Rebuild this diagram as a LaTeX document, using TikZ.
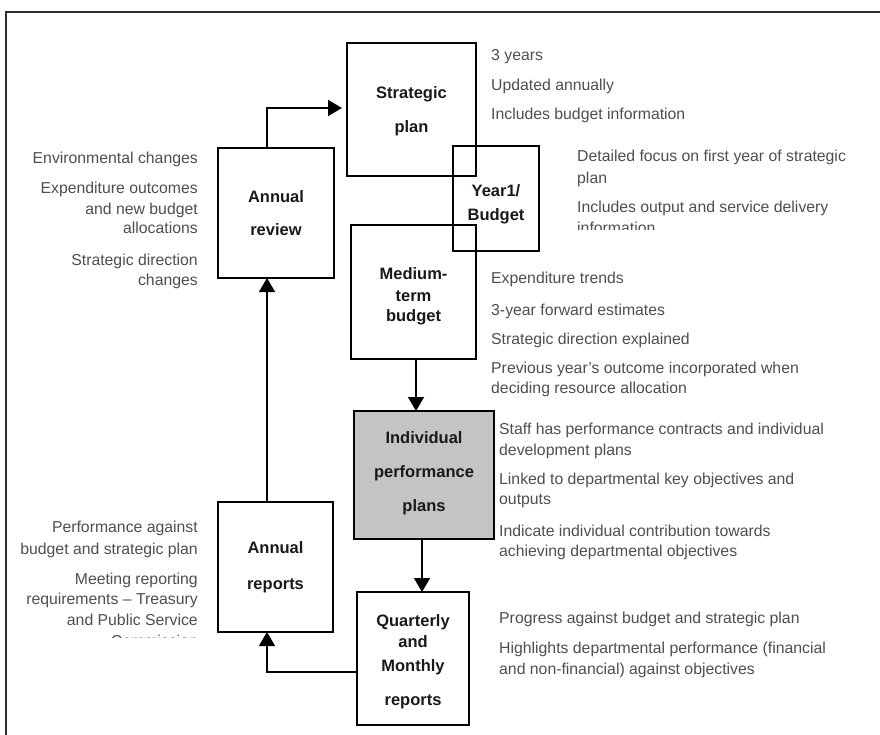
\documentclass[tikz,border=0pt]{standalone}
\usepackage{fontspec}
\setmainfont{Liberation Sans}
\usetikzlibrary{arrows.meta}
\definecolor{txt}{RGB}{78,78,78}
\definecolor{lblc}{RGB}{25,25,25}
\definecolor{fillg}{RGB}{196,196,196}
\definecolor{framec}{RGB}{45,45,45}
\begin{document}
\begin{tikzpicture}[x=1pt,y=-1pt,
  box/.style={draw=black,line width=1.5pt,inner sep=0pt,outer sep=0pt},
  lbl/.style={font=\fontsize{16.5}{20}\selectfont\bfseries,text=lblc,align=center,inner sep=0pt},
  note/.style={font=\fontsize{15.8}{20}\selectfont,text=txt,inner sep=0pt},
  nl/.style={note,anchor=base west},
  nr/.style={note,anchor=base east},
  conn/.style={line width=1.5pt,-{Triangle[length=14pt,width=16pt]}}]
\useasboundingbox (0,0) rectangle (880,734);
\draw[framec,line width=1.6pt] (6,740) -- (6,12) -- (890,12);

% boxes
\node[box,minimum width=129pt,minimum height=133pt] (sp) at (411.5,109.5) {};
\node[box,minimum width=86pt,minimum height=105pt] (yb) at (496,198.5) {};
\node[box,minimum width=125pt,minimum height=134pt] (med) at (413.5,292) {};
\node[box,minimum width=116pt,minimum height=130pt] (arev) at (276,213) {};
\node[box,fill=fillg,minimum width=140pt,minimum height=128pt] (ind) at (424,475) {};
\node[box,minimum width=115pt,minimum height=130pt] (arep) at (275.5,567) {};
\node[box,minimum width=112pt,minimum height=133pt] (qmr) at (413,658.5) {};

% labels (yshift is in canvas units: positive moves up)
\node[lbl] (spl) at ([yshift=-2pt]sp.center) {Strategic\\[14pt]plan};
\node[lbl] (ybl) at ([yshift=-6pt]yb.center) {Year1/\\[4pt]Budget};
\node[lbl] (medl) at ([yshift=-4pt]med.center) {Medium-\\[2pt]term\\budget};
\node[lbl] (arevl) at (arev.center) {Annual\\[13pt]review};
\node[lbl] (indl) at ([yshift=2pt]ind.center) {Individual\\[14pt]performance\\[14pt]plans};
\node[lbl] (arepl) at (arep.center) {Annual\\[16pt]reports};
\node[lbl] (qmrl) at ([yshift=-3pt]qmr.center) {Quarterly\\[1pt]and\\[4pt]Monthly\\[14pt]reports};

% connectors
\coordinate (lx) at (267,0);
\coordinate (ty) at (0,108);
\coordinate (c1) at (416,0);
\coordinate (c2) at (422,0);
\coordinate (c3) at (0,672);
\draw[conn,shorten >=5pt] (arev.north -| lx) |- (sp.west |- ty);
\draw[conn] (arep.north -| lx) -- (arev.south -| lx);
\draw[conn] (med.south -| c1) -- (ind.north -| c1);
\draw[conn] (ind.south -| c2) -- (qmr.north -| c2);
\draw[conn] (qmr.west |- c3) -| (arep.south -| lx);

% strategic plan notes
\node[nl] (s1) at (491,60) {3 years};
\node[nl] (s2) at (491,90) {Updated annually};
\node[nl] (s3) at (491,119) {Includes budget information};
% year1 notes
\node[nl] (y1) at (577,161) {Detailed focus on first year of strategic};
\node[nl] (y2) at (577,183) {plan};
\node[nl] (y3) at (577,212) {Includes output and service delivery};
\begin{scope}
\clip (560,0) rectangle (880,229.5);
\node[nl] (y4) at (577,233) {information};
\end{scope}
% medium-term notes
\node[nl] (m1) at (491,283) {Expenditure trends};
\node[nl] (m2) at (491,315) {3-year forward estimates};
\node[nl] (m3) at (491,344) {Strategic direction explained};
\node[nl] (m4) at (491,373) {Previous year’s outcome incorporated when};
\node[nl] (m5) at (491,393) {deciding resource allocation};
% individual notes
\node[nl] (i1) at (499,434) {Staff has performance contracts and individual};
\node[nl] (i2) at (499,455) {development plans};
\node[nl] (i3) at (499,484) {Linked to departmental key objectives and};
\node[nl] (i4) at (499,504) {outputs};
\node[nl] (i5) at (499,536) {Indicate individual contribution towards};
\node[nl] (i6) at (499,556) {achieving departmental objectives};
% quarterly notes
\node[nl] (q1) at (499,623) {Progress against budget and strategic plan};
\node[nl] (q2) at (499,653) {Highlights departmental performance (financial};
\node[nl] (q3) at (499,674) {and non-financial) against objectives};
% annual review notes
\node[nr] (r1) at (198,163) {Environmental changes};
\node[nr] (r2) at (198,193) {Expenditure outcomes};
\node[nr] (r3) at (198,214) {and new budget};
\node[nr] (r4) at (198,233) {allocations};
\node[nr] (r5) at (198,265) {Strategic direction};
\node[nr] (r6) at (198,285) {changes};
% annual reports notes
\node[nr] (p1) at (198,532) {Performance against};
\node[nr] (p2) at (198,554) {budget and strategic plan};
\node[nr] (p3) at (198,584) {Meeting reporting};
\node[nr] (p4) at (198,604) {requirements -- Treasury};
\node[nr] (p5) at (198,625) {and Public Service};
\begin{scope}
\clip (0,600) rectangle (210,637);
\node[nr] (p6) at (198,646) {Commission};
\end{scope}
\end{tikzpicture}
\end{document}
